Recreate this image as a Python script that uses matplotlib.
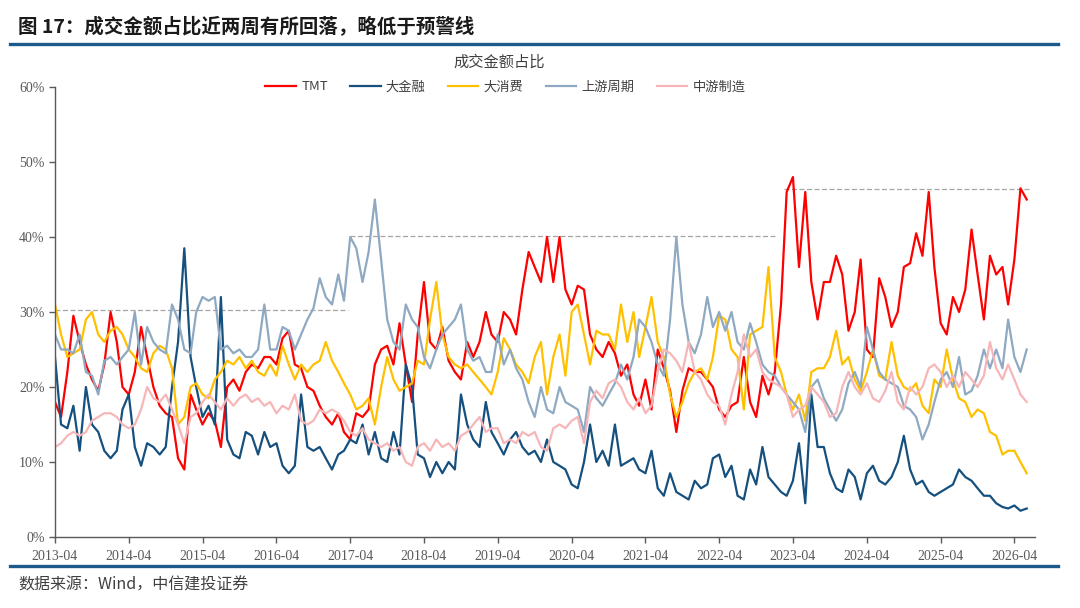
import matplotlib
matplotlib.use('Agg')
import matplotlib.pyplot as plt
import matplotlib.dates as mdates
import pandas as pd
from matplotlib.ticker import FixedLocator, FuncFormatter

plt.rcParams['font.family'] = ['Noto Sans CJK SC', 'DejaVu Sans']

# ---------------- data (monthly readings, %) ----------------
dates = pd.date_range('2013-04-01', periods=159, freq='MS')

tmt = [18, 16, 22, 29.5, 26, 23, 21, 19.5, 23, 30, 26, 20,
       19, 22, 28, 24, 20, 17.5, 16.5, 16, 10.5, 9, 19, 17,
       15, 16.5, 15.5, 12, 20, 21, 19.5, 22, 23, 22.5, 24, 24,
       23, 26.5, 27.5, 23, 22.5, 20, 19.5, 17.5, 16, 15, 16.5, 14,
       13, 16.5, 16, 17, 23, 25, 25.5, 23, 28.5, 23, 18, 27,
       34, 26, 25, 28, 23.5, 22, 21, 26, 24, 26, 30, 27,
       26, 30, 29, 27, 33, 38, 36, 34, 40, 34, 40, 33,
       31, 33.5, 33, 27, 25, 24, 26, 24.5, 21.5, 23, 19, 17.5,
       21, 17, 25, 22.5, 19.5, 14, 19.5, 22.5, 22, 22, 21, 20,
       17, 16, 17.5, 18, 24, 18, 16, 21.5, 19, 22, 31, 46,
       48, 36, 46, 34, 29, 34, 34, 37.5, 35, 27.5, 30, 37,
       25, 24, 34.5, 32, 28, 30, 36, 36.5, 40.5, 37.5, 46, 36,
       28.5, 27, 32, 30, 33, 41, 35, 29, 37.5, 35, 36, 31,
       37, 46.5, 45]

fin = [24, 15, 14.5, 17.5, 11.5, 20, 15, 14, 11.5, 10.5, 11.5, 17,
       19, 12, 9.5, 12.5, 12, 11, 12, 20, 26, 38.5, 24, 20,
       16, 17.5, 15, 32, 13, 11, 10.5, 14, 13.5, 11, 14, 12,
       12.5, 9.5, 8.5, 9.5, 19, 12, 11.5, 12, 10.5, 9, 11, 11.5,
       13, 12.5, 15, 11, 14, 10.5, 10, 14, 11, 23, 20, 11,
       10.5, 8, 10, 8.5, 10, 9, 19, 15, 13, 12, 18, 14,
       12.5, 11, 13, 14, 12, 11, 11.5, 10, 13, 10, 9.5, 9,
       7, 6.5, 10, 15, 10, 11.5, 9.5, 15, 9.5, 10, 10.5, 9,
       8.5, 11.5, 6.5, 5.5, 8.5, 6, 5.5, 5, 7.5, 6.5, 7, 10.5,
       11, 8, 9.5, 5.5, 5, 9, 7, 12, 8, 7, 6, 5.5,
       7.5, 12.5, 4.5, 19, 12, 12, 8.5, 6.5, 6, 9, 8, 5,
       8.5, 9.5, 7.5, 7, 8, 10, 13.5, 9, 7, 7.5, 6, 5.5,
       6, 6.5, 7, 9, 8, 7.5, 6.5, 5.5, 5.5, 4.5, 4, 3.8,
       4.2, 3.5, 3.8]

cons = [31, 27, 24, 24.5, 25, 29, 30, 27, 26, 27.5, 28, 27,
        25, 24, 22.5, 22, 24.5, 25.5, 25, 22.5, 15, 16, 20, 20.5,
        19, 18.5, 21, 22, 23.5, 23, 24, 22.5, 23.5, 22, 21.5, 23,
        21.5, 25.5, 23, 21, 23, 22, 23, 23.5, 26, 23.5, 22, 20.5,
        19, 17, 17.5, 18.5, 15, 20, 24, 21, 19.5, 20, 20.5, 23.5,
        23, 29, 34, 27, 24, 23, 22.5, 23, 22, 21, 20, 19,
        22, 26.5, 25, 23, 22, 20.5, 24, 26, 19, 24, 27, 21.5,
        30, 31, 27, 23, 27.5, 27, 27, 25, 31, 26, 30, 24,
        28, 32, 26, 24, 19, 16, 18, 20.5, 22, 22.5, 21, 24,
        29.5, 29, 25, 24, 17, 27, 27.5, 28, 36, 24, 22, 19,
        17, 19, 15.5, 22, 22.5, 22.5, 24, 27.5, 23, 24, 21, 19.5,
        22, 25, 21.5, 21, 26, 21.5, 20, 19.5, 20.5, 17.5, 16.5, 21,
        20, 25, 21, 18.5, 18, 16, 17, 16.5, 14, 13.5, 11, 11.5,
        11.5, 10, 8.5]

up = [27, 25, 25, 24.5, 27, 22, 21.5, 19, 23.5, 24, 23, 24,
      25, 30, 23, 28, 26, 25, 24.5, 31, 29, 25, 24.5, 30,
      32, 31.5, 32, 25, 25.5, 24.5, 25, 24, 24, 25, 31, 25,
      25, 28, 27.5, 25, 27, 29, 30.5, 34.5, 32, 31, 35, 31.5,
      40, 38.5, 34, 38, 45, 37, 29, 26, 25, 31, 29, 28,
      24, 22.5, 25, 27, 28, 29, 31, 25, 23.5, 24, 22, 22,
      27, 23, 25, 22.5, 21, 18, 16, 20, 17, 16.5, 20, 18,
      17.5, 17, 14, 20, 18.5, 17.5, 19, 20.5, 23, 21, 24, 29,
      28, 26, 23, 21.5, 29, 40, 31, 26, 24.5, 27, 32, 28,
      30, 27.5, 30, 26, 25, 28.5, 26, 23, 22, 21.5, 20, 19,
      18, 17, 14, 20, 21, 18.5, 17, 15.5, 17, 20.5, 22, 20,
      28, 25, 22, 21, 20.5, 20, 17.5, 17, 16, 13, 15, 18,
      21, 22, 20, 24, 19, 19.5, 21.5, 25, 22.5, 25, 22.5, 29,
      24, 22, 25]

mid = [12, 12.5, 13.5, 14, 13.5, 14, 15.5, 16, 16.5, 16.5, 16, 15,
       14.5, 15, 17, 20, 18.5, 18, 19, 17, 15, 12.5, 16, 16.5,
       18, 19, 18, 17, 18.5, 17.5, 18.5, 19, 18, 18.5, 17.5, 18,
       16.5, 17.5, 17, 19, 15.5, 15, 15.5, 17, 16.5, 17, 16.5, 15.5,
       14, 13.5, 14.5, 13, 12.5, 12, 12.5, 11.5, 12, 10, 9.5, 12,
       12.5, 11.5, 13, 12, 12.5, 11.5, 13.5, 14, 15, 16, 14, 14.5,
       14.5, 12.5, 13, 12.5, 14, 13.5, 14, 12, 11.5, 14.5, 15, 14.5,
       15.5, 16, 12.5, 18, 19.5, 18.5, 20.5, 21, 20, 18, 17, 18.5,
       16.5, 17.5, 22, 25, 24.5, 23.5, 22, 26, 22, 21, 19, 18,
       17.5, 15, 19, 22, 27, 24, 25, 22, 21, 20.5, 20, 19,
       16, 17, 17.5, 20, 19, 18, 16, 16.5, 20, 22, 20, 19,
       20.5, 18.5, 18, 19.5, 22, 18, 17, 20, 19, 20, 22.5, 23,
       22, 20, 21.5, 20, 22, 21, 20, 21.5, 26, 22.5, 21, 23,
       21, 19, 18]

series_names = ['TMT', '大金融', '大消费', '上游周期', '中游制造']
series_values = [tmt, fin, cons, up, mid]
colors = ['#FF0000', '#15507E', '#FFC000', '#8EA9C1', '#F6B6B8']

warn_levels = [30.3, 40.1, 46.4]
warn_start = ['2013-04-01', '2017-04-01', '2023-02-15']
warn_end = ['2017-03-20', '2023-01-01', '2026-06-20']

xtick_dates = pd.date_range('2013-04-01', '2026-04-01', freq='12MS')
yticks = [0, 10, 20, 30, 40, 50, 60]

# ---------------- figure ----------------
fig = plt.figure(figsize=(10.8, 6.08), dpi=100)
ax = fig.add_axes([55/1080, 1-537/608, 980/1080, 450/608])

for name, vals, c in zip(series_names, series_values, colors):
    ax.plot(dates, vals, color=c, lw=1.6, label=name, solid_joinstyle='round')

for lv, s, e in zip(warn_levels, warn_start, warn_end):
    ax.hlines(lv, pd.Timestamp(s), pd.Timestamp(e), colors='#A6A6A6',
              linestyles=(0, (4, 2)), lw=0.9, zorder=1)

ax.set_ylim(0, 60)
ax.set_xlim(pd.Timestamp('2013-04-01'), pd.Timestamp('2026-07-12'))
ax.yaxis.set_major_locator(FixedLocator(yticks))
ax.yaxis.set_major_formatter(FuncFormatter(lambda v, p: f'{int(v)}%'))
ax.set_xticks(xtick_dates)
ax.xaxis.set_major_formatter(mdates.DateFormatter('%Y-%m'))

for sp in ['top', 'right']:
    ax.spines[sp].set_visible(False)
for sp in ['left', 'bottom']:
    ax.spines[sp].set_color('#595959')
    ax.spines[sp].set_linewidth(1.0)
ax.tick_params(axis='both', direction='out', length=4, width=1, color='#595959',
               labelcolor='#595959', labelsize=10)
for lab in ax.get_xticklabels() + ax.get_yticklabels():
    lab.set_family(['Liberation Serif', 'DejaVu Serif'])
ax.tick_params(axis='x', pad=5)

leg = ax.legend(ncol=5, loc='center', bbox_to_anchor=(505.5/1080, 1-87/608),
                bbox_transform=fig.transFigure, frameon=False, fontsize=9.5,
                handlelength=2.3, handletextpad=0.4, columnspacing=1.7)
for t in leg.get_texts():
    t.set_color('#404040')

fig.text(499/1080, 1-62/608, '成交金额占比', ha='center', va='center',
         fontsize=11, color='#404040')

fig.text(18/1080, 1-27/608, '图 17：成交金额占比近两周有所回落，略低于预警线',
         ha='left', va='center', fontsize=14, fontweight='bold', color='#1a1a1a')
fig.add_artist(plt.Line2D([10/1080, 1058/1080], [1-44/608, 1-44/608],
                          color='#1B5A8A', lw=2.4, transform=fig.transFigure))
fig.add_artist(plt.Line2D([10/1080, 1058/1080], [1-566/608, 1-566/608],
                          color='#1B5A8A', lw=2.4, transform=fig.transFigure))
fig.text(18/1080, 1-585/608, '数据来源：Wind，中信建投证券', ha='left', va='center',
         fontsize=11.5, color='#404040', style='italic')

fig.savefig('out.png', dpi=100)
